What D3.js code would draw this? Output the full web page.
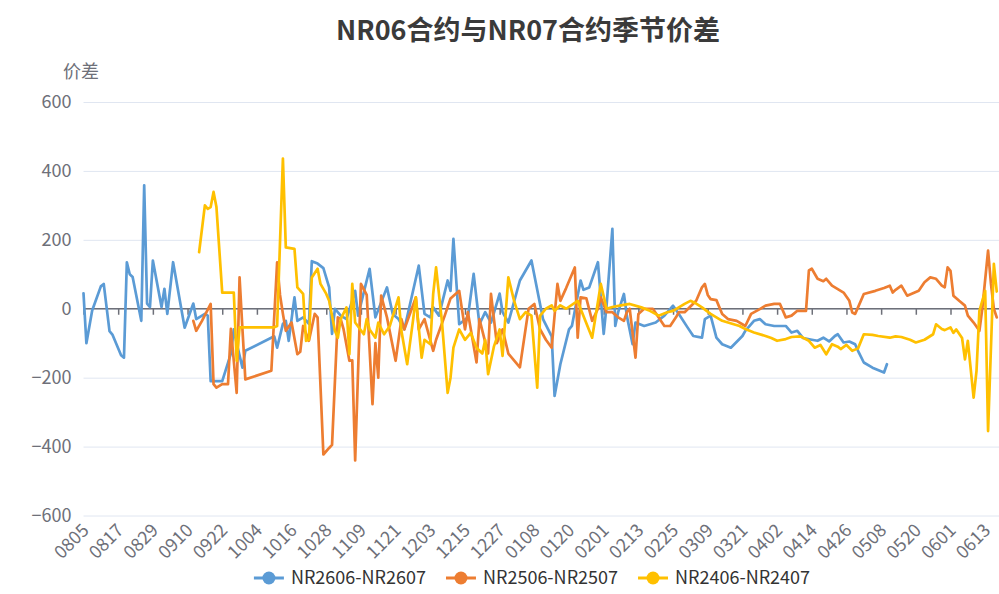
<!DOCTYPE html>
<html>
<head>
<meta charset="utf-8">
<script src="https://cdn.jsdelivr.net/npm/d3@7"></script>
<style>
  body { margin: 0; background: #fff; }
  svg text { font-family: "Noto Sans CJK SC", "Noto Sans", sans-serif; }
</style>
</head>
<body>
<script>
'use strict';

const chartTitle = "NR06合约与NR07合约季节价差";
const yAxisName = "价差";
const yTicks = [600, 400, 200, 0, -200, -400, -600];
const xTickLabels = ["0805", "0817", "0829", "0910", "0922", "1004", "1016", "1028", "1109",
  "1121", "1203", "1215", "1227", "0108", "0120", "0201", "0213", "0225", "0309", "0321",
  "0402", "0414", "0426", "0508", "0520", "0601", "0613"];
const seriesNames = ["NR2606-NR2607", "NR2506-NR2507", "NR2406-NR2407"];
const seriesColors = ["#5B9BD5", "#ED7D31", "#FFC000"];

// [MMDD, spread]
const nr2606 = [["0805",45],["0806",-100],["0808",-5],["0811",65],["0812",72],["0814",-65],["0815",-75],
  ["0818",-135],["0819",-142],["0820",135],["0821",100],["0822",92],["0825",-35],["0826",358],["0827",15],
  ["0828",5],["0829",140],["0901",5],["0902",58],["0903",-15],["0905",135],["0909",-55],["0912",15],
  ["0913",-30],["0916",-15],["0917",-20],["0918",-210],["0922",-210],["0925",-130],["0926",-60],["0927",-100],
  ["0929",-171],["0930",-122],["1010",-80],["1011",-113],["1013",-44],["1014",-35],["1015",-93],["1017",33],
  ["1018",-35],["1020",-25],["1022",-44],["1023",138],["1025",131],["1027",118],["1029",62],["1030",-73],
  ["1031",0],["1102",-20],["1104",-30],["1107",52],["1108",-20],["1112",116],["1114",-25],["1118",62],
  ["1120",-15],["1122",-30],["1124",-60],["1129",125],["1201",-15],["1203",-25],["1204",4],["1206",-20],
  ["1209",82],["1210",52],["1211",203],["1213",-45],["1216",-25],["1218",101],["1220",-45],["1222",-10],
  ["1224",-40],["1227",44],["1228",-10],["1230",-40],["0103",82],["0107",140],["0111",-30],["0114",-80],
  ["0115",-253],["0117",-161],["0120",-60],["0121",-50],["0124",82],["0125",55],["0127",62],["0130",135],
  ["0201",-73],["0202",10],["0204",232],["0205",-50],["0206",-10],["0208",43],["0209",-20],["0211",-103],
  ["0212",-40],["0215",-50],["0219",-40],["0222",-20],["0225",9],["0227",-15],["0302",-54],["0304",-79],
  ["0307",-84],["0308",-30],["0310",-20],["0312",-84],["0314",-103],["0317",-113],["0321",-79],["0322",-64],
  ["0325",-35],["0327",-30],["0329",-45],["0401",-50],["0405",-50],["0407",-69],["0409",-64],["0411",-85],
  ["0414",-90],["0416",-93],["0418",-84],["0420",-95],["0422",-79],["0423",-74],["0425",-98],["0427",-95],
  ["0429",-103],["0430",-122],["0502",-156],["0505",-171],["0509",-185],["0510",-161]];

const nr2506 = [["0912",-35],["0913",-64],["0915",-35],["0918",14],["0919",-219],["0920",-229],["0922",-219],
  ["0924",-219],["0925",-58],["0927",-244],["0928",91],["0929",-60],["0930",-205],["1009",-180],["1011",135],
  ["1012",40],["1013",-15],["1014",-64],["1016",-40],["1018",-132],["1019",-125],["1020",-50],["1022",-93],
  ["1024",-15],["1025",-25],["1027",-423],["1029",-404],["1030",-395],["1101",-25],["1102",-30],["1103",-60],
  ["1105",-151],["1106",-150],["1107",-440],["1109",72],["1111",40],["1113",-277],["1114",-100],["1115",-200],
  ["1116",38],["1118",-25],["1121",-151],["1123",-30],["1124",-60],["1128",33],["1129",-60],["1201",-30],
  ["1204",-122],["1205",-90],["1208",-20],["1210",30],["1213",52],["1215",-60],["1216",-10],["1219",-156],
  ["1220",-30],["1223",-130],["1224",43],["1226",-100],["1228",-60],["1230",-130],["0103",-170],["0106",0],
  ["0108",14],["0110",-60],["0112",-90],["0114",-113],["0116",72],["0117",23],["0119",60],["0122",120],
  ["0123",-84],["0124",33],["0126",30],["0128",-35],["0130",0],["0131",33],["0202",-10],["0204",-10],
  ["0206",-25],["0208",-35],["0209",-10],["0210",0],["0212",-142],["0213",-15],["0215",0],["0218",0],
  ["0222",-50],["0224",-50],["0226",-25],["0227",-10],["0301",-10],["0305",23],["0306",43],["0307",62],
  ["0308",72],["0309",40],["0310",28],["0312",25],["0314",-15],["0316",-30],["0319",-35],["0322",-50],
  ["0324",-15],["0327",-1],["0329",9],["0401",14],["0403",14],["0405",-25],["0407",-20],["0409",-6],
  ["0412",-6],["0413",111],["0414",116],["0416",87],["0418",80],["0419",87],["0421",67],["0423",57],
  ["0425",47],["0427",23],["0428",-11],["0429",-15],["0430",4],["0502",43],["0506",52],["0509",60],
  ["0511",67],["0512",47],["0513",55],["0515",67],["0517",38],["0519",45],["0521",52],["0523",77],
  ["0525",91],["0527",87],["0529",67],["0530",62],["0531",120],["0601",110],["0602",38],["0604",23],
  ["0606",9],["0607",-20],["0609",-40],["0611",-64],["0612",0],["0614",169],["0615",72],["0616",0],
  ["0617",-25]];

const nr2406 = [["0914",164],["0916",300],["0917",290],["0918",295],["0919",339],["0920",295],["0922",47],
  ["0925",47],["0926",47],["0927",-151],["0928",-54],["1010",-54],["1011",-50],["1013",436],["1014",178],
  ["1017",174],["1018",62],["1020",43],["1021",-93],["1022",-90],["1023",91],["1025",116],["1026",72],
  ["1028",43],["1029",23],["1031",-64],["1101",-84],["1102",-30],["1104",4],["1105",-132],["1106",72],
  ["1107",-40],["1110",-74],["1111",-30],["1112",-60],["1114",-84],["1115",-40],["1117",-74],["1119",-50],
  ["1122",33],["1123",-64],["1125",-161],["1127",-35],["1128",33],["1130",-142],["1201",-90],["1203",-103],
  ["1204",43],["1205",120],["1207",-35],["1209",-244],["1210",-200],["1211",-113],["1213",-60],["1215",-90],
  ["1217",-70],["1219",-113],["1221",-130],["1222",-90],["1223",-190],["1225",-110],["1227",-60],
  ["1228",-137],["1230",91],["0101",23],["0103",-30],["0105",-10],["0107",-20],["0109",-229],["0110",-20],
  ["0112",0],["0114",10],["0115",-6],["0117",10],["0119",0],["0123",23],["0124",0],["0128",-84],["0131",72],
  ["0202",0],["0204",5],["0207",10],["0210",14],["0214",4],["0217",-6],["0220",-20],["0223",-10],["0225",-6],
  ["0301",14],["0303",23],["0305",15],["0307",4],["0310",-15],["0312",-25],["0314",-35],["0318",-45],
  ["0320",-50],["0322",-59],["0325",-69],["0329",-79],["0331",-85],["0402",-93],["0405",-88],["0407",-82],
  ["0410",-80],["0413",-93],["0415",-113],["0417",-105],["0419",-132],["0421",-103],["0423",-110],
  ["0424",-117],["0426",-105],["0428",-122],["0430",-115],["0502",-74],["0505",-76],["0507",-79],
  ["0511",-84],["0513",-80],["0515",-82],["0518",-90],["0520",-98],["0523",-90],["0526",-74],["0527",-45],
  ["0529",-59],["0530",-62],["0601",-54],["0602",-70],["0603",-60],["0605",-85],["0606",-147],["0607",-93],
  ["0609",-258],["0610",-180],["0611",-6],["0613",52],["0614",-355],["0616",130],["0617",50]];

// every calendar day of the season, 0805 .. 0630
function makeDays() {
  let days = [];
  let fmt = d3.timeFormat("%m%d");
  let d = new Date(2025, 7, 5);
  let end = new Date(2026, 5, 30);
  while (d <= end) {
    days.push(fmt(d));
    d = d3.timeDay.offset(d, 1);
  }
  return days;
}

const width = 999;
const height = 594;
const left = 83.5;
const step = 2.89;

let days = makeDays();

let svg = d3.select("body").append("svg")
  .attr("width", width)
  .attr("height", height);

svg.append("rect").attr("width", width).attr("height", height).attr("fill", "#fff");

let x = d3.scalePoint()
  .domain(days)
  .range([left, left + (days.length - 1) * step]);

let y = d3.scaleLinear()
  .domain([-600, 600])
  .range([515.5, 102]);

// title
svg.append("text")
  .attr("x", 528)
  .attr("y", 40)
  .attr("text-anchor", "middle")
  .style("font-size", "27px")
  .style("font-weight", "bold")
  .attr("fill", "#3a3a3a")
  .text(chartTitle);

svg.append("text")
  .attr("x", 81)
  .attr("y", 78)
  .attr("text-anchor", "middle")
  .style("font-size", "18px")
  .attr("fill", "#6E7079")
  .text(yAxisName);

// y grid + labels
let yAxis = d3.axisLeft(y)
  .tickValues(yTicks)
  .tickSize(-(width - left + 60))
  .tickPadding(12);

let yG = svg.append("g")
  .attr("transform", "translate(" + left + ",0)")
  .call(yAxis);
yG.select(".domain").remove();
yG.selectAll(".tick line").attr("stroke", "#E0E6F1");
yG.selectAll(".tick text")
  .attr("fill", "#6E7079")
  .style("font-size", "18px");

// x axis line at zero with ticks
let xAxis = d3.axisBottom(x)
  .tickValues(xTickLabels)
  .tickSize(6)
  .tickFormat("");

let xG = svg.append("g")
  .attr("transform", "translate(0," + y(0) + ")")
  .call(xAxis);
xG.select(".domain")
  .attr("d", "M" + left + ",0H" + (width + 40))
  .attr("stroke", "#6E7079")
  .attr("stroke-width", 1.5);
xG.selectAll(".tick line").attr("stroke", "#6E7079").attr("stroke-width", 1.5);

// rotated date labels at the bottom
svg.append("g")
  .selectAll("text")
  .data(xTickLabels)
  .enter()
  .append("text")
    .attr("transform", (d) => "translate(" + (x(d) + 2) + ",527)rotate(-45)")
    .attr("text-anchor", "end")
    .attr("dy", "0.35em")
    .attr("fill", "#6E7079")
    .style("font-size", "18px")
    .text((d) => d);

// lines
let line = d3.line()
  .x((d) => x(d[0]))
  .y((d) => y(d[1]));

[nr2606, nr2506, nr2406].forEach((s, i) => {
  svg.append("path")
    .datum(s)
    .attr("fill", "none")
    .attr("stroke", seriesColors[i])
    .attr("stroke-width", 2.7)
    .attr("stroke-linejoin", "round")
    .attr("stroke-linecap", "round")
    .attr("d", line);
});

// legend
let legend = svg.append("g").attr("transform", "translate(0,578)");
let items = legend.selectAll("g")
  .data(seriesNames)
  .enter()
  .append("g");

items.append("line")
  .attr("x1", -15).attr("x2", 15)
  .attr("stroke", (d, i) => seriesColors[i])
  .attr("stroke-width", 3);
items.append("circle")
  .attr("r", 6.5)
  .attr("fill", (d, i) => seriesColors[i]);
items.append("text")
  .attr("x", 22)
  .attr("dy", "0.35em")
  .attr("fill", "#333")
  .style("font-size", "18px")
  .text((d) => d);

let widths = [];
items.each(function() { widths.push(30 + 7 + this.querySelector("text").getComputedTextLength()); });
let gap = 20;
let total = d3.sum(widths) + gap * (widths.length - 1);
let pos = 532 - total / 2;
items.attr("transform", function(d, i) {
  let tx = pos + 15;
  pos += widths[i] + gap;
  return "translate(" + tx + ",0)";
});
</script>
</body>
</html>
